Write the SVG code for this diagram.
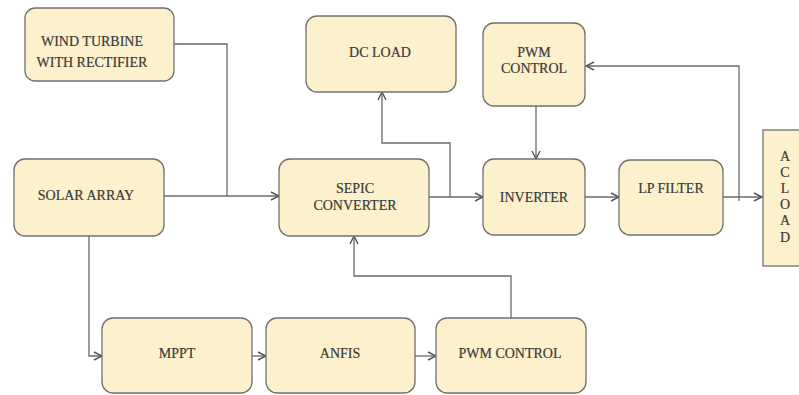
<svg xmlns="http://www.w3.org/2000/svg" width="799" height="395" viewBox="0 0 799 395">
  <style>
    .box { fill: #fdf0cc; stroke: #707070; stroke-width: 1.3; }
    .lbl { font-family: 'Liberation Serif', 'DejaVu Serif', serif; font-size: 14px; fill: #3a3a3a; text-anchor: middle; stroke: #3a3a3a; stroke-width: 0.2; }
    .wire { fill: none; stroke: #6a6a6a; stroke-width: 1.3; }
    .arr { marker-end: url(#head); }
  </style>
  <defs>
    <marker id="head" viewBox="0 0 10 10" refX="9" refY="5" markerWidth="10" markerHeight="10" markerUnits="userSpaceOnUse" orient="auto">
      <path d="M1,1 L9,5 L1,9" fill="none" stroke="#555" stroke-width="1.4"/>
    </marker>
  </defs>
  <rect width="799" height="395" fill="#ffffff"/>

  <g id="connectors">
    <!-- wind turbine joins the solar bus -->
    <path class="wire" d="M174,44 H227 V196"/>
    <!-- solar array to SEPIC -->
    <path class="wire arr" d="M164,196 H279"/>
    <!-- solar array down to MPPT -->
    <path class="wire arr" d="M89,236 V356 H102"/>
    <!-- MPPT to ANFIS -->
    <path class="wire arr" d="M252,356 H266"/>
    <!-- ANFIS to PWM control -->
    <path class="wire arr" d="M415,356 H436"/>
    <!-- PWM control back up to SEPIC -->
    <path class="wire arr" d="M511,318 V276 H354 V236"/>
    <!-- SEPIC to inverter -->
    <path class="wire arr" d="M429,197 H483"/>
    <!-- SEPIC output tap to DC load -->
    <path class="wire arr" d="M450,197 V143 H382 V92"/>
    <!-- PWM control to inverter -->
    <path class="wire arr" d="M536,106 V159"/>
    <!-- inverter to LP filter -->
    <path class="wire arr" d="M585,197 H619"/>
    <!-- LP filter to AC load -->
    <path class="wire arr" d="M723,197 H762"/>
    <!-- AC feedback to PWM control -->
    <path class="wire arr" d="M739,201 V66 H586"/>
  </g>

  <g id="wind-turbine">
    <rect class="box" x="25" y="8" width="149" height="73" rx="10"/>
    <text class="lbl" x="92" y="46">WIND TURBINE</text>
    <text class="lbl" x="92" y="67">WITH RECTIFIER</text>
  </g>

  <g id="dc-load">
    <rect class="box" x="306" y="16" width="150" height="76" rx="11"/>
    <text class="lbl" x="380" y="57">DC LOAD</text>
  </g>

  <g id="pwm-control-top">
    <rect class="box" x="483" y="23" width="102" height="83" rx="11"/>
    <text class="lbl" x="534" y="57">PWM</text>
    <text class="lbl" x="534" y="73">CONTROL</text>
  </g>

  <g id="solar-array">
    <rect class="box" x="14" y="159" width="150" height="77" rx="11"/>
    <text class="lbl" x="86" y="200">SOLAR ARRAY</text>
  </g>

  <g id="sepic-converter">
    <rect class="box" x="279" y="159" width="150" height="77" rx="11"/>
    <text class="lbl" x="355" y="193">SEPIC</text>
    <text class="lbl" x="355" y="210">CONVERTER</text>
  </g>

  <g id="inverter">
    <rect class="box" x="483" y="159" width="102" height="76" rx="11"/>
    <text class="lbl" x="534" y="202">INVERTER</text>
  </g>

  <g id="lp-filter">
    <rect class="box" x="619" y="160" width="104" height="75" rx="11"/>
    <text class="lbl" x="671" y="193">LP FILTER</text>
  </g>

  <g id="ac-load">
    <rect class="box" x="763" y="130" width="40" height="136" rx="0"/>
    <text class="lbl" x="785" y="161">A</text>
    <text class="lbl" x="785" y="177">C</text>
    <text class="lbl" x="785" y="193">L</text>
    <text class="lbl" x="785" y="209">O</text>
    <text class="lbl" x="785" y="225">A</text>
    <text class="lbl" x="785" y="242">D</text>
  </g>

  <g id="mppt">
    <rect class="box" x="102" y="318" width="150" height="75" rx="11"/>
    <text class="lbl" x="177" y="358">MPPT</text>
  </g>

  <g id="anfis">
    <rect class="box" x="266" y="318" width="149" height="75" rx="11"/>
    <text class="lbl" x="340" y="358">ANFIS</text>
  </g>

  <g id="pwm-control-bottom">
    <rect class="box" x="436" y="318" width="150" height="75" rx="11"/>
    <text class="lbl" x="510" y="358">PWM CONTROL</text>
  </g>
</svg>
